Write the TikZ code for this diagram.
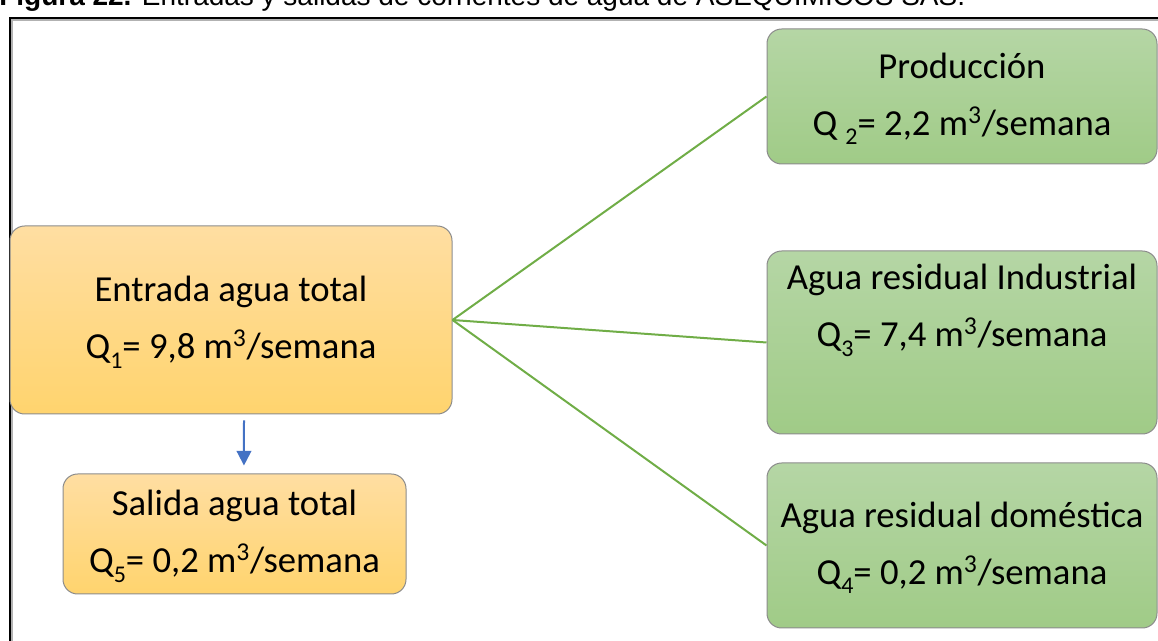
\documentclass[tikz,border=0pt]{standalone}
\usepackage{fontspec}
\setmainfont{Carlito}
\newfontfamily\captionfont{Liberation Sans}
\usetikzlibrary{arrows.meta}

\definecolor{warmtop}{HTML}{FFDEA2}
\definecolor{warmbot}{HTML}{FFD46E}
\definecolor{leaftop}{HTML}{B5D6A5}
\definecolor{leafbot}{HTML}{A0CB87}
\definecolor{linegreen}{HTML}{70AD47}
\definecolor{arrowblue}{HTML}{4472C4}
\definecolor{rim}{HTML}{8C8C8C}

\newcommand{\lowsub}[1]{\smash{\raisebox{-0.55ex}{\fontsize{18}{18}\selectfont #1}}}
\newcommand{\cubic}{\textsuperscript{3}}

\begin{document}
\begin{tikzpicture}[x=0.75pt,y=-0.75pt]

\tikzset{block/.style = {draw=rim, line width=0.75pt, rounded corners=11pt, inner sep=0pt, align=center, font=\fontsize{27.5}{42.75}\selectfont}}
\tikzset{warm/.style = {block, top color=warmtop, bottom color=warmbot}}
\tikzset{leaf/.style = {block, top color=leaftop, bottom color=leafbot, minimum width=292.5pt}}
\tikzset{branch/.style = {draw=linegreen, line width=1.5pt}}
\tikzset{edge/.style = {-{Triangle[length=11pt,width=11pt]}, draw=arrowblue, line width=1.5pt}}

\useasboundingbox (0,0) rectangle (1158,641);
\clip (0,0) rectangle (1158,641);

%caption and frame
\node[anchor=base west, inner sep=0pt, font=\captionfont\fontsize{21}{21}\selectfont] (caption) at (-1,6) {\textbf{Figura 22.} Entradas y salidas de corrientes de agua de ASEQUIMICOS SAS.};
\draw[gray!60, line width=1.5pt] (1170,20) -- (12,20) -- (12,660);
\draw[black, line width=1.5pt] (1170,18) -- (10,18) -- (10,660);

%blocks
\node[warm, minimum width=331.5pt, minimum height=141pt] (entrada) at (231,320) {Entrada agua total\\Q\lowsub{1}= 9,8 m\cubic/semana};
\node[warm, minimum width=257.25pt, minimum height=90pt] (salida) at (234.5,534) {Salida agua total\\Q\lowsub{5}= 0,2 m\cubic/semana};
\node[leaf, minimum height=101.25pt] (produccion) at (962,96.5) {Producción\\Q \lowsub{2}= 2,2 m\cubic/semana};
\node[leaf, minimum height=137.25pt] (industrial) at (962,342.5) {Agua residual Industrial\\Q\lowsub{3}= 7,4 m\cubic/semana\\ \strut};
\node[leaf, minimum height=123.75pt] (domestica) at (962,545.5) {Agua residual doméstica\\Q\lowsub{4}= 0,2 m\cubic/semana};

%edges
\draw[branch] (entrada.east) -- (produccion.west);
\draw[branch] (entrada.east) -- (industrial.west);
\draw[branch] (entrada.east) -- (domestica.west);
\draw[edge] ([xshift=9.75pt,yshift=-4.5pt]entrada.south) -- ([xshift=7.1pt,yshift=6pt]salida.north);

\end{tikzpicture}
\end{document}
